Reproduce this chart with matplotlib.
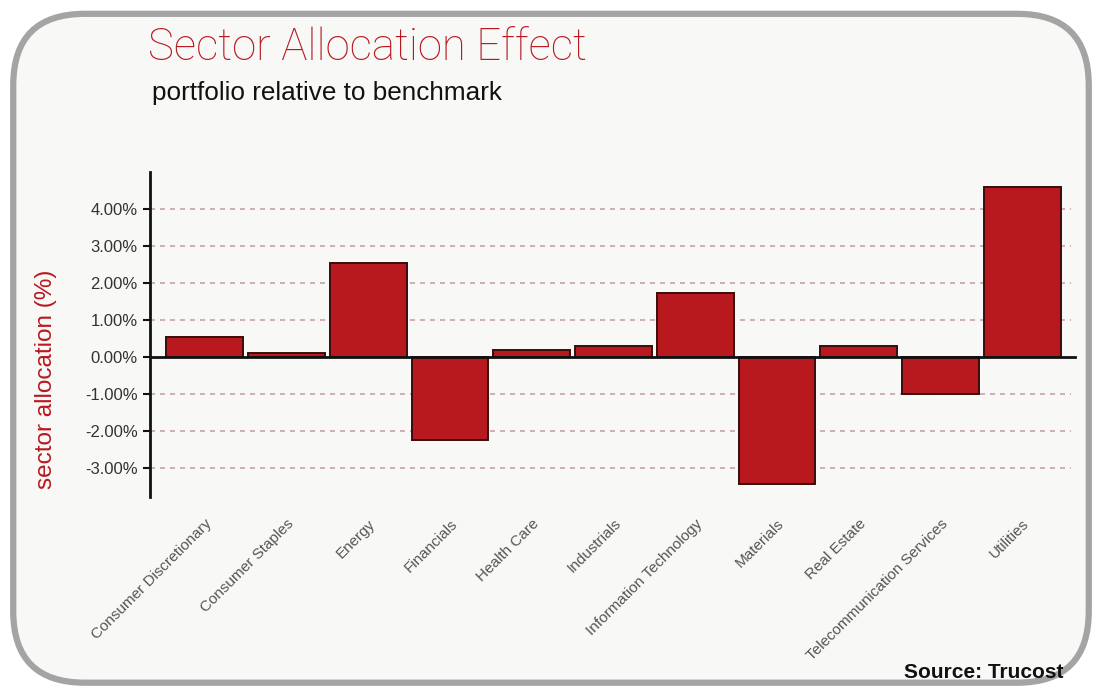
import matplotlib
matplotlib.use("Agg")
import matplotlib.pyplot as plt
from matplotlib.patches import FancyBboxPatch
import numpy as np

categories = ["Consumer Discretionary", "Consumer Staples", "Energy", "Financials",
              "Health Care", "Industrials", "Information Technology", "Materials",
              "Real Estate", "Telecommunication Services", "Utilities"]
values = [0.55, 0.12, 2.55, -2.25, 0.18, 0.30, 1.73, -3.43, 0.30, -1.00, 4.60]
yticks = [-3, -2, -1, 0, 1, 2, 3, 4]
ytick_labels = ["-3.00%", "-2.00%", "-1.00%", "0.00%", "1.00%", "2.00%", "3.00%", "4.00%"]

plt.rcParams['font.family'] = ['Liberation Sans', 'DejaVu Sans']

fig = plt.figure(figsize=(11.02, 6.91), dpi=100)
fig.patch.set_facecolor("white")

# rounded frame
frame = FancyBboxPatch((0.012, 0.012), 0.976, 0.968,
                       boxstyle="round,pad=0,rounding_size=0.065",
                       transform=fig.transFigure, facecolor="#f8f8f7",
                       edgecolor="#a4a4a4", linewidth=4.5, zorder=-5,
                       mutation_aspect=1102/691)
fig.patches.append(frame)

ax = fig.add_axes([150/1102, 1-497/691, (1077-150)/1102, (497-172)/691])
ax.set_zorder(5)
ax.set_facecolor("none")

x = np.arange(len(categories))
ax.bar(x, values, width=0.94, color="#b8191f", edgecolor="#3a0c0c", linewidth=1.4, zorder=3)

ax.set_xlim(-0.67, 10.67)
ax.set_ylim(-3.78, 5.0)
ax.set_yticks(yticks)
ax.set_yticklabels(ytick_labels, fontsize=12, color="#333333")
for yv in yticks:
    if yv != 0:
        ax.plot([-0.67, 10.6], [yv, yv], color="#c9a3a6", linestyle=(0, (3, 3)),
                linewidth=1.2, zorder=1)
ax.axhline(0, color="#111111", linewidth=2, zorder=4, xmax=0.998)

ax.set_xticks(x)
ax.set_xticklabels(categories, rotation=45, ha="right", rotation_mode="anchor",
                   fontsize=11, color="#555555")
ax.tick_params(axis="x", length=0, pad=14)
ax.tick_params(axis="y", direction="out", length=5, width=1.5, color="#111111", pad=4)

for s in ["top", "right", "bottom"]:
    ax.spines[s].set_visible(False)
ax.spines["left"].set_linewidth(2)
ax.spines["left"].set_color("#111111")

fig.text(46/1102, 1-379/691, "sector allocation (%)", color="#b8191f",
         fontsize=17.5, rotation=90, va="center", ha="center")

fig.text(148/1102, 1-48/691, "Sector Allocation Effect", color="#b8191f",
         fontsize=31.5, va="center", ha="left", family=["Roboto", "DejaVu Sans"],
         fontweight="light")
fig.text(152/1102, 1-93/691, "portfolio relative to benchmark", color="#111111",
         fontsize=18.8, va="center", ha="left")
fig.text(1064/1102, 1-673/691, "Source: Trucost", color="#111111",
         fontsize=15, fontweight="bold", va="center", ha="right")

fig.savefig("out.png", dpi=100)
